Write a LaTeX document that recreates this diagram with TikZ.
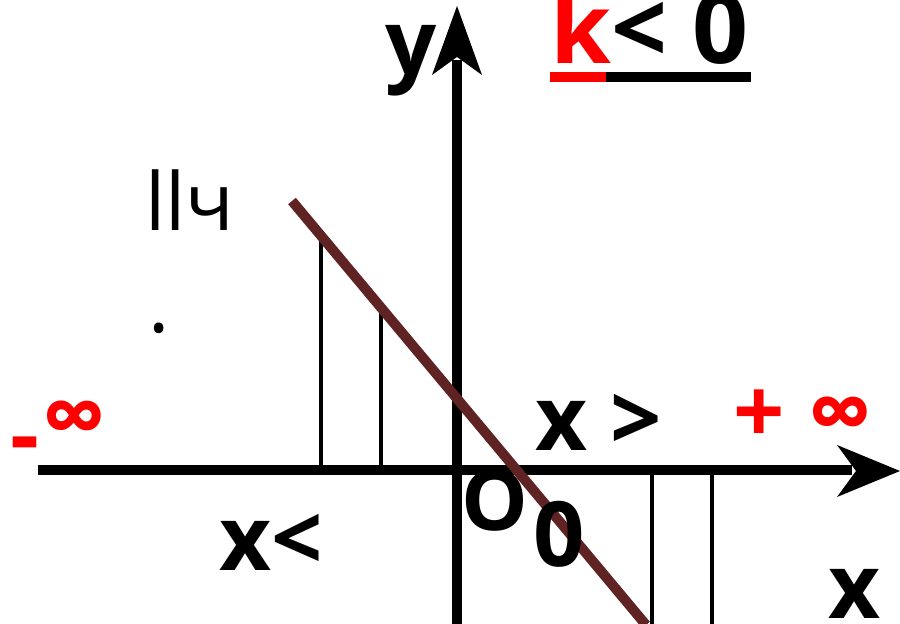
\documentclass[tikz,border=0pt]{standalone}
\usepackage{fontspec}
\setmainfont{Open Sans}
\definecolor{brownline}{HTML}{5F2323}
\definecolor{redtxt}{HTML}{FF0000}
\begin{document}
\begin{tikzpicture}[x=0.5pt,y=-0.5pt,
  lbl/.style={inner sep=0pt,anchor=base west,font=\fontsize{45}{54}\selectfont\bfseries},
  thin/.style={line width=2pt,black},
  axis/.style={line width=4.8pt,black},
  tipfill/.style={fill=black,draw=none}]
\useasboundingbox (0,0) rectangle (900,624);
% axes
\coordinate (xl) at (38,470);
\coordinate (xr) at (852,470);
\coordinate (yb) at (457,624);
\coordinate (yt) at (457,60);
\draw[axis] (xl) -- (xr);
\draw[axis] (yb) -- (yt);
\fill[tipfill] (900,471) -- (837,445) -- (856,471) -- (837,497) -- cycle;
\fill[tipfill] (457,6) -- (432,75) -- (457,57) -- (482,75) -- cycle;
% thin verticals
\coordinate (a1) at (321,232); \coordinate (a2) at (321,470);
\coordinate (b1) at (381,306); \coordinate (b2) at (381,470);
\coordinate (c1) at (652,470); \coordinate (c2) at (652,624);
\coordinate (d1) at (712,470); \coordinate (d2) at (712,624);
\draw[thin] (a1) -- (a2);
\draw[thin] (b1) -- (b2);
\draw[thin] (c1) -- (c2);
\draw[thin] (d1) -- (d2);
% line
\coordinate (l1) at (292,201);
\coordinate (l2) at (646,625);
\draw[line width=5pt,brownline] (l1) -- (l2);
% labels
\node[lbl] (ylab) at (385,75) {y};
\node[lbl,font=\fontsize{49}{56}\selectfont\bfseries] (klab) at (550,64) {\textcolor{redtxt}{k}< 0};
\draw[line width=5pt,redtxt] (550,77) -- (606,77);
\draw[line width=5pt,black] (606,77) -- (751,77);
\node[lbl,font=\fontsize{40}{48}\selectfont] (ll) at (145,231) {llч};
\node[lbl,font=\fontsize{40}{48}\selectfont] (dot) at (148,333) {.};
\node[lbl,text=redtxt] (minus) at (10,467) {-};
\node[lbl,text=redtxt] (minf) at (42,448) {∞};
\node[lbl] (xg) at (535,451) {x >};
\node[lbl,text=redtxt] (pinf) at (733,444) {+ ∞};
\node[lbl] (xlt) at (219,571) {x<};
\node[lbl,font=\fontsize{42}{50}\selectfont\bfseries] (olab) at (461,531) {O};
\node[lbl] (zlab) at (533,567) {0};
\node[lbl] (xlab) at (828,619) {x};
\end{tikzpicture}
\end{document}
